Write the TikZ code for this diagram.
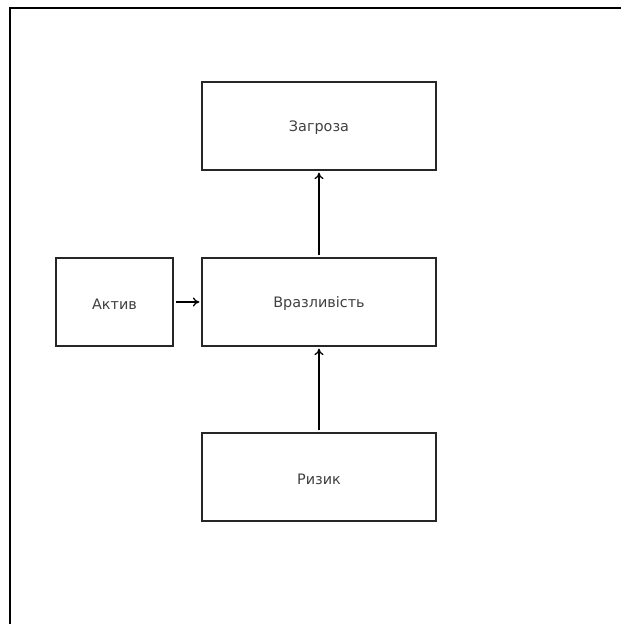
\documentclass[tikz,border=0pt]{standalone}
\usepackage{fontspec}
\setmainfont{DejaVu Sans}
\usetikzlibrary{arrows.meta}
\begin{document}
\begin{tikzpicture}[x=1pt,y=-1pt,
  box/.style={draw=black!85,line width=1.3pt,minimum width=234pt,minimum height=88pt,inner sep=0pt},
  lbl/.style={text=black!75,font=\fontsize{14.4}{17}\selectfont,inner sep=0pt},
  conn/.style={line width=1.3pt,-{To[length=6.5pt,width=9pt]}}]
\useasboundingbox (0,0) rectangle (621,624);
\draw[line width=2pt] (9.5,624) -- (9.5,7.5) -- (621,7.5);
\node[box] (threat) at (319,126) {};
\node[box,minimum width=117pt] (asset) at (114.5,302) {};
\node[box] (vuln) at (319,302) {};
\node[box] (risk) at (319,477) {};
\node[lbl] (tthreat) at (319,128) {Загроза};
\node[lbl] (tasset) at (114.5,304) {Актив};
\node[lbl] (tvuln) at (319,304) {Вразливість};
\node[lbl] (trisk) at (319,479) {Ризик};
\draw[conn] ([xshift=2pt]asset.east) -- ([xshift=-2pt]vuln.west);
\draw[conn] ([yshift=2pt]vuln.north) -- ([yshift=-2pt]threat.south);
\draw[conn] ([yshift=2pt]risk.north) -- ([yshift=-2pt]vuln.south);
\end{tikzpicture}
\end{document}
